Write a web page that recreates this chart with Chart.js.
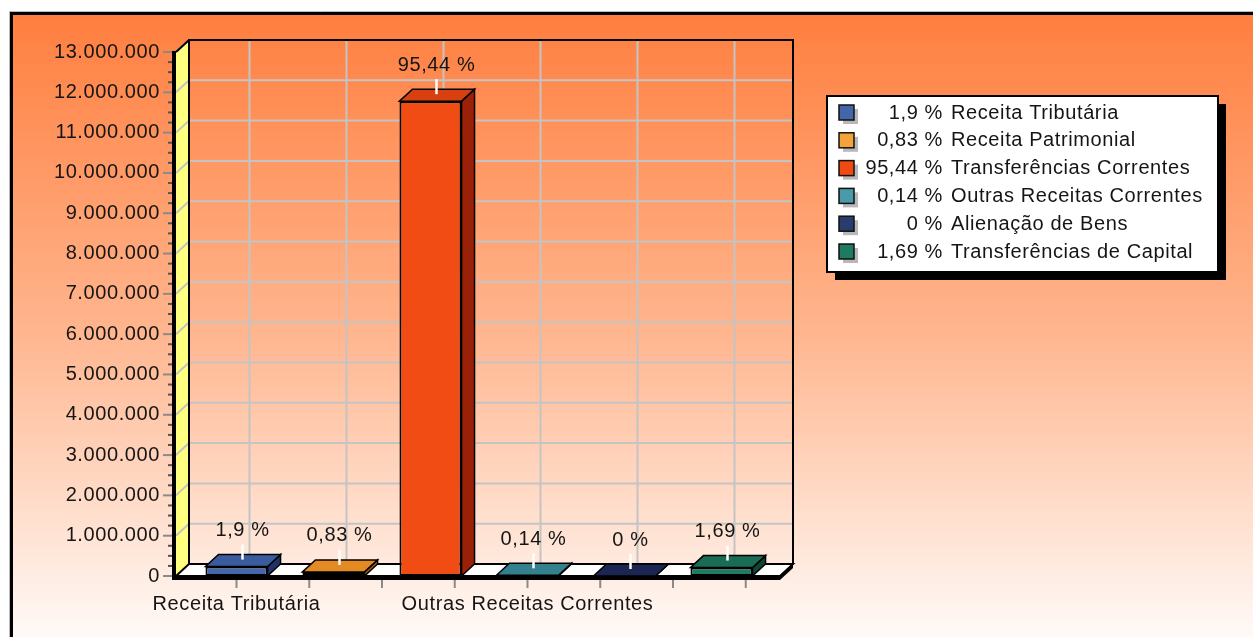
<!DOCTYPE html>
<html>
<head>
<meta charset="utf-8">
<script src="https://cdn.jsdelivr.net/npm/chart.js@4.4.0/dist/chart.umd.min.js"></script>
<style>
    html, body { margin: 0; padding: 0; background: #fff; }
    #wrap { width: 1253px; height: 637px; }
</style>
</head>
<body>
<div id="wrap"><canvas id="receitaChart" width="1253" height="637"></canvas></div>
<script>
// Data
const categories = ['Receita Tributária', 'Receita Patrimonial', 'Transferências Correntes', 'Outras Receitas Correntes', 'Alienação de Bens', 'Transferências de Capital'];
const values = [234000, 102000, 11780000, 17000, 0, 209000];
const percentLabels = ['1,9 %', '0,83 %', '95,44 %', '0,14 %', '0 %', '1,69 %'];
const shownCategoryLabels = [0, 3];
const yMax = 13000000;
const yStep = 1000000;

// Colours
const frontColors = ['#4466AA', '#F39A2B', '#F24C15', '#3C8E9E', '#22305F', '#1F7B61'];
const topColors = ['#3A5C9E', '#E38A22', '#D8400F', '#33808F', '#1B2752', '#1A6C54'];
const sideColors = ['#1F3266', '#A85A10', '#9A2008', '#1F5560', '#101838', '#0F4535'];
const legendColors = ['#4366A8', '#F3A33A', '#F04A12', '#4A9BAA', '#2A3C6E', '#1F7A62'];

const FONT = 'Liberation Sans, Arial, sans-serif';
const FSIZE = 20;
const DX = 13, DY = 12;   // depth of the 3d box

function fmtNumber(v) {
    return String(v).replace(/\B(?=(\d{3})+(?!\d))/g, '.');
}

function spacing(chart) {
    chart.ctx.letterSpacing = '0.6px';
}

function line(ctx, x1, y1, x2, y2) {
    ctx.beginPath();
    ctx.moveTo(x1, y1);
    ctx.lineTo(x2, y2);
    ctx.stroke();
}

function poly(ctx, pts, fill, stroke, lw) {
    ctx.beginPath();
    ctx.moveTo(pts[0][0], pts[0][1]);
    for (let i = 1; i < pts.length; i++) ctx.lineTo(pts[i][0], pts[i][1]);
    ctx.closePath();
    if (fill) { ctx.fillStyle = fill; ctx.fill(); }
    if (stroke) { ctx.strokeStyle = stroke; ctx.lineWidth = lw || 1; ctx.stroke(); }
}

// Background, walls and floor
const boxPlugin = {
    id: 'box3d',
    beforeInit: spacing,
    beforeLayout: spacing,
    beforeDraw(chart) {
        spacing(chart);
        const ctx = chart.ctx;
        const ca = chart.chartArea;
        const xs = chart.scales.x, ys = chart.scales.y;
        ctx.save();

        // page frame with gradient
        ctx.fillStyle = '#fff';
        ctx.fillRect(0, 0, chart.width, chart.height);
        const g = ctx.createLinearGradient(0, 12, 0, chart.height);
        g.addColorStop(0, '#FF7E3E');
        g.addColorStop(0.5, '#FFB48C');
        g.addColorStop(1, '#FFFAF7');
        ctx.fillStyle = g;
        ctx.fillRect(10, 12, chart.width - 10, chart.height - 12);
        ctx.strokeStyle = '#bbb';
        ctx.lineWidth = 1;
        line(ctx, 9.5, chart.height, 9.5, 11.5);
        line(ctx, 9.5, 11.5, chart.width, 11.5);
        ctx.strokeStyle = '#000';
        ctx.lineWidth = 3;
        line(ctx, 11.5, chart.height, 11.5, 13.5);
        line(ctx, 10, 13.5, chart.width, 13.5);

        const fl = ca.left - 12, fr = ca.right + 10, ft = ca.top, fb = ca.bottom;
        const bl = fl + DX, br = fr + DX, bt = ft - DY, bb = fb - DY;

        // yellow side wall
        poly(ctx, [[fl, ft], [bl, bt], [bl, bb], [fl, fb]], '#FFFF80');

        // grid lines
        ctx.strokeStyle = '#C4C4C4';
        ctx.lineWidth = 2;
        for (let v = yStep; v <= yMax; v += yStep) {
            const y = ys.getPixelForValue(v);
            line(ctx, fl, y, bl, y - DY);
            line(ctx, bl, y - DY, br, y - DY);
        }
        categories.forEach((c, i) => {
            const x = xs.getPixelForValue(i) + DX;
            line(ctx, x, bt, x, bb);
        });

        // wall edges
        ctx.strokeStyle = '#000';
        ctx.lineWidth = 2;
        line(ctx, fl, ft, bl, bt);
        line(ctx, bl - 1, bt, br + 1, bt);
        line(ctx, br, bt, br, bb);
        line(ctx, bl, bt, bl, bb);

        // floor
        poly(ctx, [[fl, fb], [bl, bb], [br, bb], [fr, fb]], '#fff', '#000', 2);
        ctx.fillStyle = '#000';
        ctx.fillRect(fl - 4, fb, fr - fl + 4, 4);
        poly(ctx, [[fr, fb], [br, bb], [br, bb + 4], [fr, fb + 4]], '#000');

        // front axis bar
        ctx.fillRect(fl - 4, ft - 1, 4, fb - ft + 5);

        // y ticks
        for (let v = 0; v <= yMax; v += yStep / 4) {
            const y = ys.getPixelForValue(v);
            if (v % yStep === 0) {
                ctx.strokeStyle = '#8a8a8a';
                ctx.lineWidth = 2;
                line(ctx, fl - 13, y, fl - 4, y);
            } else {
                ctx.strokeStyle = '#555';
                ctx.lineWidth = 2;
                line(ctx, fl - 8, y, fl - 4, y);
            }
        }

        // x ticks
        const cw = xs.getPixelForValue(1) - xs.getPixelForValue(0);
        ctx.strokeStyle = '#8a8a8a';
        ctx.lineWidth = 2;
        for (let k = 0; k < 8; k++) {
            const x = xs.getPixelForValue(0) + k * cw * 0.75;
            line(ctx, x, fb + 4, x, fb + 12);
        }
        ctx.restore();
    },
    afterDatasetsDraw(chart) {
        const ctx = chart.ctx;
        const meta = chart.getDatasetMeta(0);
        ctx.save();
        meta.data.forEach((bar, i) => {
            const p = bar.getProps(['x', 'y', 'base', 'width'], true);
            const l = p.x - p.width / 2, r = p.x + p.width / 2;
            if (p.base - p.y < 1) {
                poly(ctx, [[l, p.base], [r, p.base]], null, '#000', 2);
            }
            poly(ctx, [[r, p.y], [r + DX, p.y - DY], [r + DX, p.base - DY], [r, p.base]], sideColors[i], '#000', 1.5);
            poly(ctx, [[l, p.y], [l + DX, p.y - DY], [r + DX, p.y - DY], [r, p.y]], topColors[i], '#000', 1.5);

            // value labels
            const cx = p.x + 6;
            ctx.strokeStyle = '#fff';
            ctx.lineWidth = 2.5;
            line(ctx, cx, p.y - 7, cx, p.y - 22);
            ctx.fillStyle = '#151515';
            ctx.font = FSIZE + 'px ' + FONT;
            ctx.textAlign = 'center';
            ctx.textBaseline = 'middle';
            ctx.fillText(percentLabels[i], cx, p.y - 36);
        });
        ctx.restore();
    },
    afterDraw(chart) {
        // legend box
        const ctx = chart.ctx;
        const lx = 827, ly = 96, lw = 391, lh = 176;
        ctx.save();
        ctx.fillStyle = '#000';
        ctx.fillRect(lx + 8, ly + 8, lw, lh);
        ctx.fillStyle = '#fff';
        ctx.fillRect(lx, ly, lw, lh);
        ctx.strokeStyle = '#000';
        ctx.lineWidth = 2;
        ctx.strokeRect(lx, ly, lw, lh);
        ctx.font = FSIZE + 'px ' + FONT;
        ctx.textBaseline = 'middle';
        categories.forEach((c, i) => {
            const y = ly + 17 + i * 27.8;
            ctx.fillStyle = '#b8b8b8';
            ctx.fillRect(lx + 16, y - 4, 15, 15);
            ctx.fillStyle = legendColors[i];
            ctx.fillRect(lx + 12, y - 8, 15, 15);
            ctx.strokeStyle = '#111';
            ctx.lineWidth = 1.5;
            ctx.strokeRect(lx + 12, y - 8, 15, 15);
            ctx.fillStyle = '#151515';
            ctx.textAlign = 'right';
            ctx.fillText(percentLabels[i], lx + 116, y);
            ctx.textAlign = 'left';
            ctx.fillText(c, lx + 124, y);
        });
        ctx.restore();
    }
};

const chart = new Chart(document.getElementById('receitaChart').getContext('2d'), {
    type: 'bar',
    data: {
        labels: categories,
        datasets: [{
            data: values,
            backgroundColor: frontColors,
            borderColor: '#000',
            borderWidth: 2,
            borderSkipped: false,
            barPercentage: 0.64,
            categoryPercentage: 1
        }]
    },
    options: {
        responsive: false,
        animation: false,
        layout: { padding: { left: 0, top: 52, right: 483, bottom: 0 } },
        plugins: {
            legend: { display: false },
            tooltip: { enabled: false }
        },
        scales: {
            x: {
                offset: true,
                grid: { display: false, drawTicks: false },
                border: { display: false },
                ticks: {
                    autoSkip: false,
                    maxRotation: 0,
                    minRotation: 0,
                    padding: 16,
                    color: '#151515',
                    font: { family: FONT, size: FSIZE },
                    callback: (v, i) => shownCategoryLabels.includes(i) ? categories[i] : ''
                },
                afterFit: s => { s.height = 61; }
            },
            y: {
                min: 0,
                max: yMax,
                grid: { display: false, drawTicks: false },
                border: { display: false },
                ticks: {
                    stepSize: yStep,
                    padding: 28,
                    color: '#151515',
                    font: { family: FONT, size: FSIZE },
                    callback: v => fmtNumber(v)
                },
                afterFit: s => { s.width = 188; }
            }
        }
    },
    plugins: [boxPlugin]
});
</script>
</body>
</html>
